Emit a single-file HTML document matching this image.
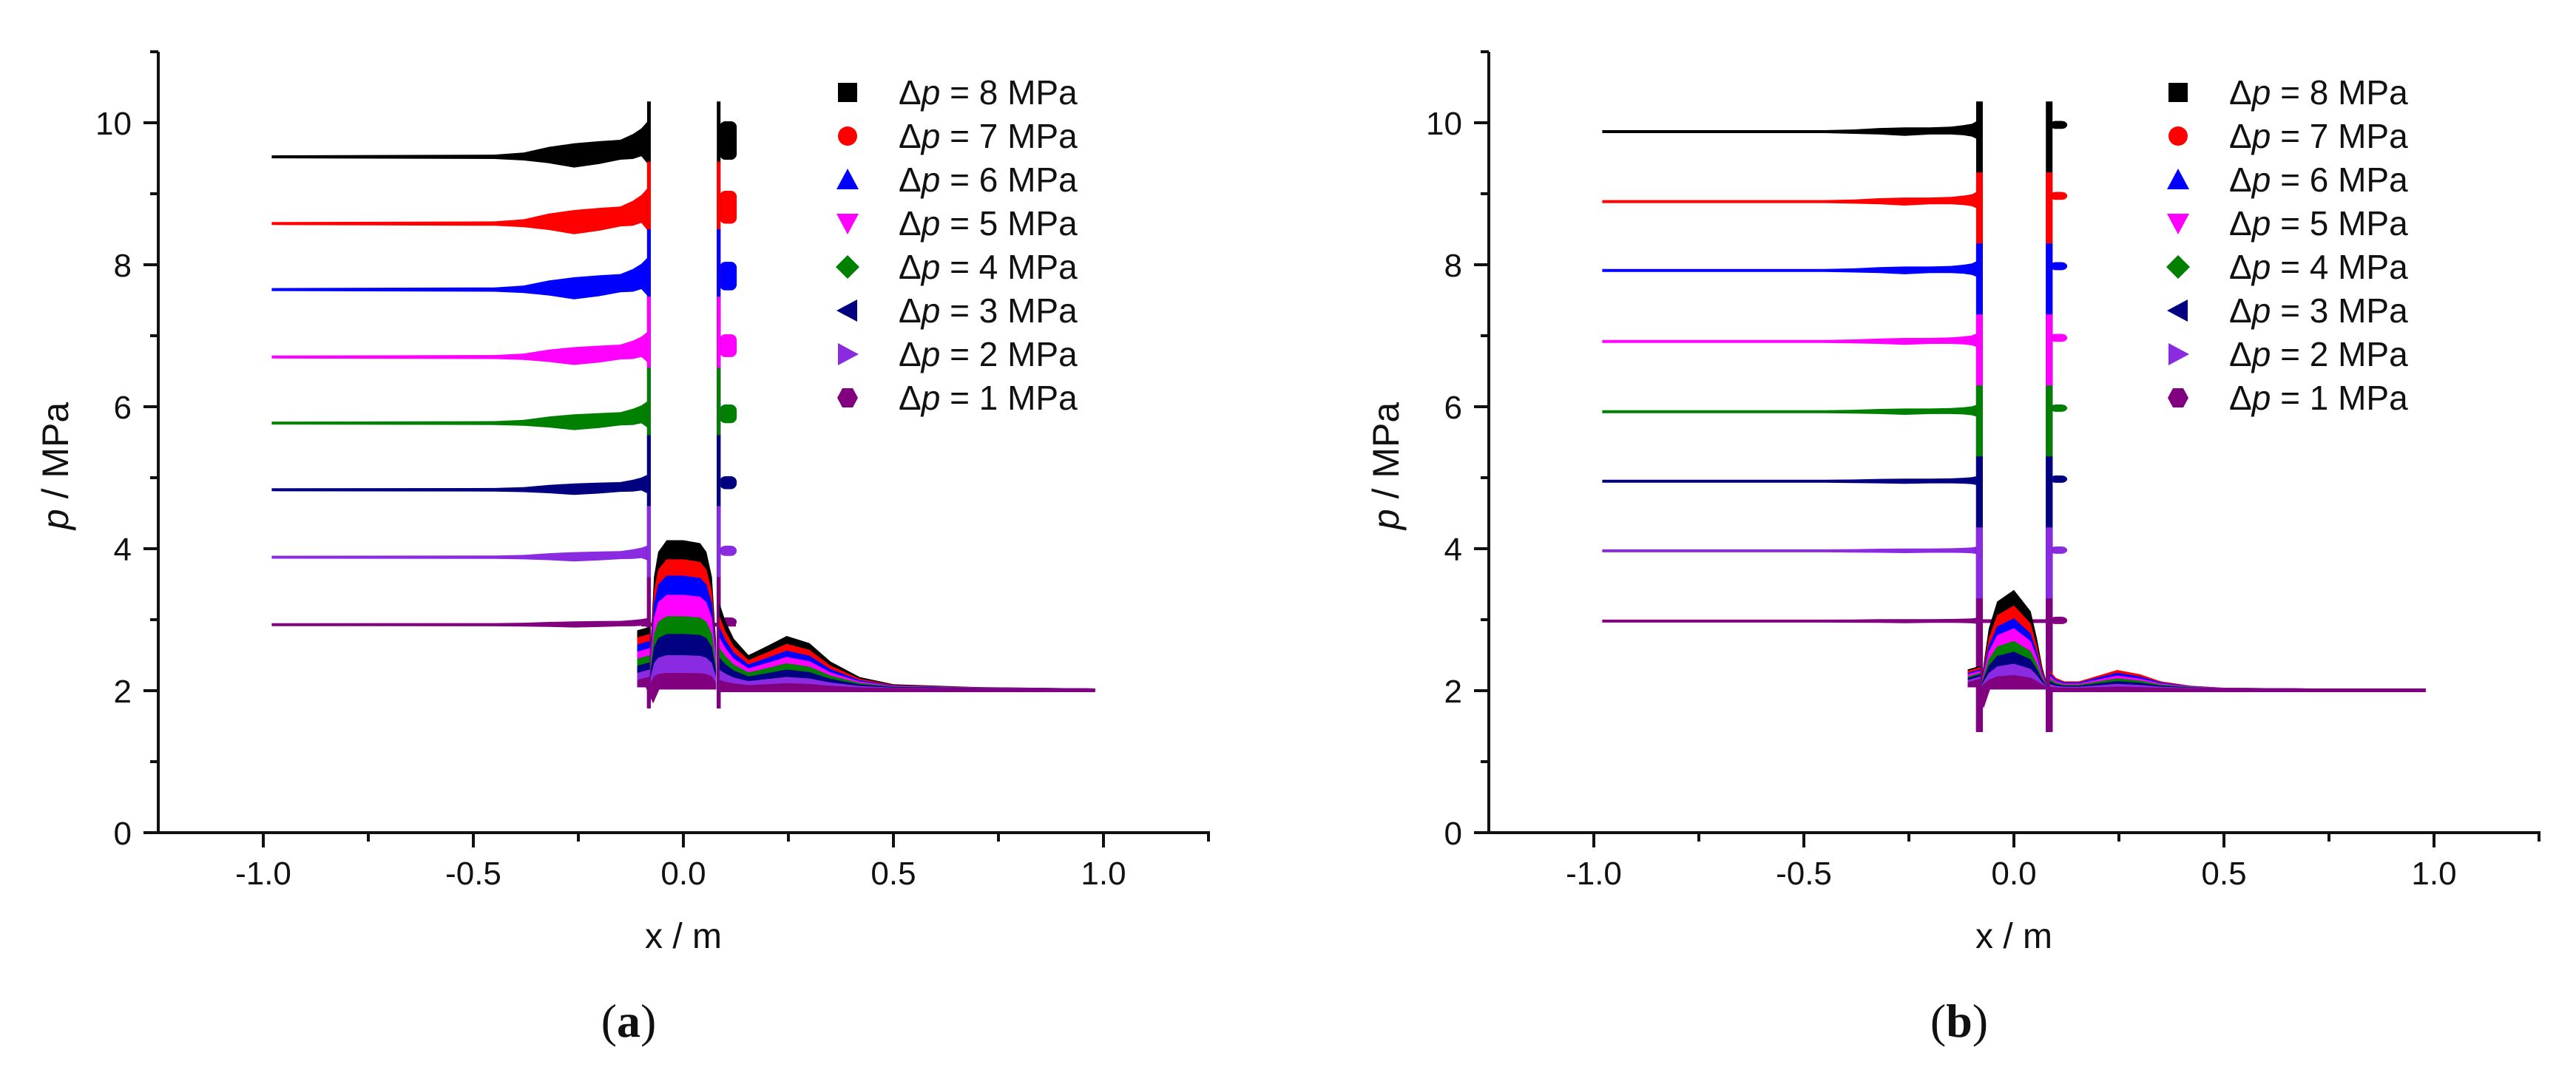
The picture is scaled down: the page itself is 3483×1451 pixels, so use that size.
<!DOCTYPE html>
<html>
<head>
<meta charset="utf-8">
<style>
html,body{margin:0;padding:0;background:#fff;}
svg{display:block;}
text{font-family:"Liberation Sans",Arial,sans-serif;fill:#111;}
</style>
</head>
<body>
<svg id="fig" width="3483" height="1451" viewBox="0 0 3483 1451" xmlns="http://www.w3.org/2000/svg">
<rect x="0" y="0" width="3483" height="1451" fill="#fff"/>
</svg>
<script>
// ---------- data ----------
const seriesLabels = ["8", "7", "6", "5", "4", "3", "2", "1"];
const seriesColors = ["#000000", "#ff0000", "#0000ff", "#ff00ff", "#008000", "#000080", "#8a2be2", "#800080"];
const markerShapes = ["square", "circle", "up", "down", "diamond", "left", "right", "hex"];
const xTicks = [-1.0, -0.5, 0.0, 0.5, 1.0];
const xTickLabels = ["-1.0", "-0.5", "0.0", "0.5", "1.0"];
const xMinorTicks = [-0.75, -0.25, 0.25, 0.75, 1.25];
const yTicks = [0, 2, 4, 6, 8, 10];
const yTickLabels = ["0", "2", "4", "6", "8", "10"];
const yMinorTicks = [1, 3, 5, 7, 9, 11];

// shared x grids
const xLeft = [-0.98, -0.45, -0.38, -0.32, -0.26, -0.2, -0.15, -0.12, -0.1, -0.082];
const xMid = [-0.078, -0.07, -0.06, -0.04, 0.0, 0.04, 0.055, 0.068, 0.078];
const xRight = [0.086, 0.1, 0.12, 0.155, 0.2, 0.246, 0.3, 0.35, 0.42, 0.5, 0.7, 0.98];

// panel (a)
const levelsA = [9.52, 8.58, 7.65, 6.7, 5.77, 4.83, 3.88, 2.93];
const leftUpA = [0, 0.01, 0.04, 0.12, 0.17, 0.2, 0.22, 0.3, 0.38, 0.5];
const leftLoA = [0, -0.01, -0.03, -0.07, -0.13, -0.08, -0.02, -0.01, 0.03, -0.1];
const leftAmpA = [1, 1, 0.9, 0.7, 0.6, 0.4, 0.3, 0.15];
const blobA = [9.75, 8.81, 7.84, 6.86, 5.9, 4.93, 3.97, 2.97];
const blobHalfA = [0.24, 0.2, 0.17, 0.13, 0.1, 0.06, 0.04, 0.03];
const spikeTopA = [10.3, 9.45, 8.5, 7.55, 6.55, 5.6, 4.6, 3.6];
const midTopA = [4.12, 3.85, 3.62, 3.35, 3.05, 2.8, 2.5, 2.25];
const midShapeA = [0.3, 0.75, 0.92, 1, 1, 0.98, 0.92, 0.75, 0.3];
const stubA = [2.85, 2.75, 2.65, 2.55, 2.45, 2.35, 2.25, 2.15];
const rightProfileA = [3.2, 2.95, 2.7, 2.47, 2.6, 2.74, 2.64, 2.38, 2.16, 2.06, 2.02, 2.0];
const rightAmpA = [1, 0.85, 0.72, 0.6, 0.48, 0.36, 0.22, 0.1];

// panel (b)
const levelsB = [9.875, 8.89, 7.92, 6.92, 5.93, 4.95, 3.97, 2.98];
const leftUpB = [0, 0, 0.01, 0.03, 0.04, 0.04, 0.05, 0.07, 0.09, 0.15];
const leftLoB = [0, 0, -0.01, -0.02, -0.04, -0.02, -0.02, -0.03, -0.05, -0.1];
const leftAmpB = [1, 0.9, 0.85, 0.7, 0.6, 0.4, 0.3, 0.2];
const blobB = [9.97, 8.97, 7.98, 6.97, 5.98, 4.98, 3.98, 2.99];
const blobHalfB = [0.025, 0.025, 0.025, 0.025, 0.02, 0.02, 0.02, 0.02];
const spikeTopB = [10.3, 9.3, 8.3, 7.3, 6.3, 5.3, 4.3, 3.3];
const midTopB = [3.42, 3.2, 3.02, 2.88, 2.7, 2.55, 2.38, 2.22];
const midShapeB = [0.05, 0.3, 0.6, 0.88, 1, 0.78, 0.5, 0.2, 0.05];
const stubB = [2.3, 2.28, 2.25, 2.23, 2.2, 2.18, 2.15, 2.12];
const rightProfileB = [2.25, 2.15, 2.1, 2.1, 2.18, 2.26, 2.2, 2.1, 2.04, 2.01, 2.0, 2.0];
const rightAmpB = [0.9, 1, 0.85, 0.7, 0.55, 0.4, 0.25, 0.1];

// ---------- drawing ----------
const NS = "http://www.w3.org/2000/svg";
const svg = document.getElementById("fig");
function mk(tag, attrs, parent) {
  const e = document.createElementNS(NS, tag);
  for (const k in attrs) e.setAttribute(k, attrs[k]);
  (parent || svg).appendChild(e);
  return e;
}
function polyStr(pts) { return pts.map(p => p[0].toFixed(1) + "," + p[1].toFixed(1)).join(" "); }

function drawPanel(ox, cfg, tag, letter) {
  const X = v => ox + 924 + 568 * v;
  const Y = v => 1126 - 96 * v;
  const g = mk("g", {});
  
  
  const plot = mk("g", {}, g);
  
  

  for (let i = 0; i < 8; i++) {
    const sg = mk("g", {fill: seriesColors[i], stroke: "none"}, plot);
    
    
    const lvl = cfg.levels[i], amp = cfg.leftAmp[i];
    // left envelope
    const up = xLeft.map((x, k) => [X(x), Y(lvl + amp * cfg.leftUp[k]) - 2]);
    const lo = xLeft.map((x, k) => [X(x), Y(lvl + amp * cfg.leftLo[k]) + 2]).reverse();
    const pl = mk("polygon", {points: polyStr(up.concat(lo))}, sg);
    
    
    // right blob
    const b = mk("rect", {x: X(0.086), y: Y(cfg.blob[i] + cfg.blobHalf[i]) - 3, width: X(0.127) - X(0.086),
      height: 96 * 2 * cfg.blobHalf[i] + 6, rx: 8}, sg);
    
    
  }
  // 1 MPa line extends across the gap
  const ext = mk("rect", {x: X(-0.1), y: Y(cfg.levels[7]) - 2.5, width: X(0.125) - X(-0.1), height: 5, fill: seriesColors[7]}, plot);
  
  

  // spikes
  for (let i = 0; i < 8; i++) {
    for (const sx of [-0.082, 0.084]) {
      const s = mk("rect", {x: X(sx) - cfg.spikeW / 2, y: Y(cfg.spikeTop[i]), width: cfg.spikeW,
        height: Y(cfg.spikeBot) - Y(cfg.spikeTop[i]), fill: seriesColors[i]}, plot);
      
      
    }
  }
  // middle bands + stub + right region
  for (let i = 0; i < 8; i++) {
    const top = cfg.midTop[i];
    const pts = xMid.map((x, k) => [X(x), Y(2.05 + (top - 2.05) * cfg.midShape[k])]);
    pts.push([X(0.078), Y(2.02)]); pts.push([X(-0.078), Y(2.02)]);
    const m = mk("polygon", {points: polyStr(pts), fill: seriesColors[i]}, plot);
    
    
    const st = mk("polygon", {points: polyStr([[X(-0.11), Y(2.05)], [X(-0.11), Y(cfg.stub[i])], [X(-0.08), Y(cfg.stub[i] + 0.05)], [X(-0.08), Y(2.05)]]), fill: seriesColors[i]}, plot);
    
    
    const rp = xRight.map((x, k) => [X(x), Y(2 + cfg.rightAmp[i] * (cfg.rightProfile[k] - 2)) - 3]);
    rp.push([X(0.98), Y(1.98)]); rp.push([X(0.086), Y(1.98)]);
    const r = mk("polygon", {points: polyStr(rp), fill: seriesColors[i]}, plot);
    
    
  }
  // dip below entrance
  const dip = mk("polygon", {points: polyStr([[X(-0.09), Y(2.05)], [X(-0.072), Y(cfg.dip)], [X(-0.055), Y(2.05)]]), fill: "#800080"}, plot);
  
  

  // axes
  const ax = mk("g", {stroke: "#111", "stroke-width": 4, fill: "none"}, g);
  
  
  const yl = mk("line", {x1: X(-1.25), y1: Y(11), x2: X(-1.25), y2: Y(0) + 2}, ax);
  
  
  const xl = mk("line", {x1: X(-1.25) - 2, y1: Y(0), x2: X(1.25) + 2, y2: Y(0)}, ax);
  
  
  xTicks.forEach((v, k) => {
    const t = mk("line", {x1: X(v), y1: Y(0), x2: X(v), y2: Y(0) + 20}, ax);
    
    
    const lb = mk("text", {x: X(v), y: 1196, "font-size": 44, "text-anchor": "middle"}, g);
    lb.textContent = xTickLabels[k];
    
    
  });
  xMinorTicks.forEach(v => {
    const t = mk("line", {x1: X(v), y1: Y(0), x2: X(v), y2: Y(0) + 12}, ax);
    
    
  });
  yTicks.forEach((v, k) => {
    const t = mk("line", {x1: X(-1.25) - 20, y1: Y(v), x2: X(-1.25), y2: Y(v)}, ax);
    
    
    const lb = mk("text", {x: X(-1.25) - 36, y: Y(v) + 16, "font-size": 44, "text-anchor": "end"}, g);
    lb.textContent = yTickLabels[k];
    
    
  });
  yMinorTicks.forEach(v => {
    const t = mk("line", {x1: X(-1.25) - 11, y1: Y(v), x2: X(-1.25), y2: Y(v)}, ax);
    
    
  });
  // axis titles
  const xt = mk("text", {x: X(0), y: 1282, "font-size": 48, "text-anchor": "middle"}, g);
  xt.textContent = "x / m";
  
  
  const yt = mk("text", {x: 0, y: 0, "font-size": 50, "text-anchor": "middle", transform: "translate(" + (ox + 92) + ",630) rotate(-90)"}, g);
  yt.innerHTML = '<tspan font-style="italic">p</tspan> / MPa';
  
  
  // panel letter
  const pl2 = mk("text", {x: ox + 850, y: 1402, "font-size": 64, "text-anchor": "middle"}, g);
  pl2.setAttribute("style", "font-family:'Liberation Serif',serif");
  pl2.innerHTML = '(<tspan font-weight="bold">' + letter + '</tspan>)';
  
  

  // legend
  const lg = mk("g", {}, g);
  
  
  for (let i = 0; i < 8; i++) {
    const cy = 125 + 59 * i, cx = ox + 1146, c = seriesColors[i], s = 13;
    let m;
    switch (markerShapes[i]) {
      case "square": m = mk("rect", {x: cx - s, y: cy - s, width: 2 * s, height: 2 * s, fill: c}, lg); break;
      case "circle": m = mk("circle", {cx: cx, cy: cy, r: s, fill: c}, lg); break;
      case "up": m = mk("polygon", {points: polyStr([[cx, cy - s - 2], [cx + s + 2, cy + s], [cx - s - 2, cy + s]]), fill: c}, lg); break;
      case "down": m = mk("polygon", {points: polyStr([[cx - s - 2, cy - s], [cx + s + 2, cy - s], [cx, cy + s + 2]]), fill: c}, lg); break;
      case "diamond": m = mk("polygon", {points: polyStr([[cx, cy - s - 3], [cx + s + 3, cy], [cx, cy + s + 3], [cx - s - 3, cy]]), fill: c}, lg); break;
      case "left": m = mk("polygon", {points: polyStr([[cx - s - 2, cy], [cx + s, cy - s - 2], [cx + s, cy + s + 2]]), fill: c}, lg); break;
      case "right": m = mk("polygon", {points: polyStr([[cx + s + 2, cy], [cx - s, cy - s - 2], [cx - s, cy + s + 2]]), fill: c}, lg); break;
      default: m = mk("polygon", {points: polyStr([[cx - 7, cy - 13], [cx + 7, cy - 13], [cx + 14, cy], [cx + 7, cy + 13], [cx - 7, cy + 13], [cx - 14, cy]]), fill: c}, lg);
    }
    
    
    const t = mk("text", {x: ox + 1215, y: cy + 16, "font-size": 46}, lg);
    t.innerHTML = 'Δ<tspan font-style="italic">p</tspan> = ' + seriesLabels[i] + ' MPa';
    
    
  }
}

drawPanel(0, {levels: levelsA, leftUp: leftUpA, leftLo: leftLoA, leftAmp: leftAmpA, blob: blobA, blobHalf: blobHalfA,
  spikeTop: spikeTopA, spikeBot: 1.75, spikeW: 5, midTop: midTopA, midShape: midShapeA, stub: stubA,
  rightProfile: rightProfileA, rightAmp: rightAmpA, dip: 1.82}, "a", "a");
drawPanel(1799, {levels: levelsB, leftUp: leftUpB, leftLo: leftLoB, leftAmp: leftAmpB, blob: blobB, blobHalf: blobHalfB,
  spikeTop: spikeTopB, spikeBot: 1.42, spikeW: 9, midTop: midTopB, midShape: midShapeB, stub: stubB,
  rightProfile: rightProfileB, rightAmp: rightAmpB, dip: 1.75}, "b", "b");
</script>
</body>
</html>
